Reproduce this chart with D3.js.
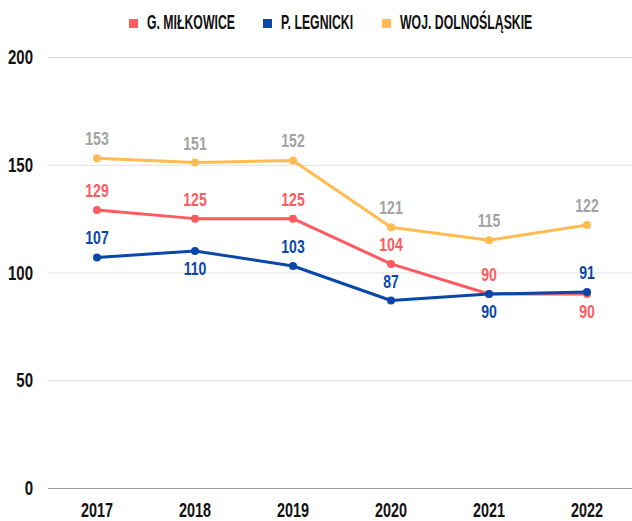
<!DOCTYPE html>
<html lang="pl">
<head>
    <meta charset="UTF-8">
    <script src="https://cdn.jsdelivr.net/npm/d3@7"></script>
    <title>Chart</title>
    <style>
        body { margin: 0; background: white; }
        text {
            font-family: "Liberation Sans", "Roboto", sans-serif;
            font-weight: bold;
        }
    </style>
</head>
<body>
    <div id="chart"></div>
    <script>
        const years = ["2017", "2018", "2019", "2020", "2021", "2022"];
        const yTicks = [0, 50, 100, 150, 200];

        const seriesNames = ["G. MIŁKOWICE", "P. LEGNICKI", "WOJ. DOLNOŚLĄSKIE"];
        const milkowice = [129, 125, 125, 104, 90, 90];
        const legnicki = [107, 110, 103, 87, 90, 91];
        const dolnoslaskie = [153, 151, 152, 121, 115, 122];

        // where the value label sits, per point
        const milkowicePos = ["up", "up", "up", "up", "up", "down"];
        const legnickiPos = ["up", "down", "up", "up", "down", "up"];
        const dolnoslaskiePos = ["up", "up", "up", "up", "up", "up"];

        const colors = ["#ff5a5f", "#0b47a8", "#ffbb4f"];
        const labelColors = ["#ff5a5f", "#0b47a8", "#a3a3a3"];

        const width = 632, height = 521;

        const svg = d3.select("#chart").append("svg")
            .attr("width", width)
            .attr("height", height);

        const x = d3.scalePoint().domain(years).range([48, 636]).padding(0.5);
        const y = d3.scaleLinear().domain([0, 200]).range([488, 57]);

        // squeezed text, the original uses a very narrow face
        const squeeze = (sel, sx) => sel.attr("transform", function () {
            const tx = +this.getAttribute("data-x"), ty = +this.getAttribute("data-y");
            return `translate(${tx},${ty}) scale(${sx},1)`;
        });

        // grid
        svg.append("g").selectAll("line")
            .data(yTicks)
            .enter().append("line")
            .attr("x1", 48).attr("x2", width)
            .attr("y1", d => y(d) + 0.5).attr("y2", d => y(d) + 0.5)
            .attr("stroke", d => d === 0 ? "#9a9a9a" : "#dedede")
            .attr("stroke-width", 1);

        svg.append("g").selectAll("text")
            .data(yTicks)
            .enter().append("text")
            .attr("data-x", 33).attr("data-y", d => y(d) + 7)
            .attr("text-anchor", "end")
            .attr("font-size", 19.5)
            .attr("fill", "#111")
            .text(d => d)
            .call(squeeze, 0.77);

        svg.append("g").selectAll("text")
            .data(years)
            .enter().append("text")
            .attr("data-x", d => x(d)).attr("data-y", 516.5)
            .attr("text-anchor", "middle")
            .attr("font-size", 20)
            .attr("fill", "#111")
            .text(d => d)
            .call(squeeze, 0.72);

        const series = [
            { name: seriesNames[0], values: milkowice, pos: milkowicePos, i: 0 },
            { name: seriesNames[1], values: legnicki, pos: legnickiPos, i: 1 },
            { name: seriesNames[2], values: dolnoslaskie, pos: dolnoslaskiePos, i: 2 }
        ];
        const drawOrder = [series[2], series[0], series[1]];

        const line = d3.line()
            .x((d, i) => x(years[i]))
            .y(d => y(d));

        drawOrder.forEach(s => {
            const g = svg.append("g");
            g.append("path")
                .datum(s.values)
                .attr("d", line)
                .attr("fill", "none")
                .attr("stroke", colors[s.i])
                .attr("stroke-width", 3)
                .attr("stroke-linejoin", "round");
            g.selectAll("circle")
                .data(s.values)
                .enter().append("circle")
                .attr("cx", (d, i) => x(years[i]))
                .attr("cy", d => y(d))
                .attr("r", 4)
                .attr("fill", colors[s.i]);
        });

        series.forEach(s => {
            svg.append("g").selectAll("text")
                .data(s.values)
                .enter().append("text")
                .attr("data-x", (d, i) => x(years[i]))
                .attr("data-y", (d, i) => s.pos[i] === "up" ? y(d) - 13 : y(d) + 24)
                .attr("text-anchor", "middle")
                .attr("font-size", 18.5)
                .attr("fill", labelColors[s.i])
                .text(d => d)
                .call(squeeze, 0.76);
        });

        // legend
        const legendX = [129, 263, 382];
        const legend = svg.append("g");
        series.forEach((s, k) => {
            legend.append("rect")
                .attr("x", legendX[k]).attr("y", 19)
                .attr("width", 9).attr("height", 9)
                .attr("fill", colors[s.i]);
            legend.append("text")
                .attr("data-x", legendX[k] + 18).attr("data-y", 29)
                .attr("font-size", 19.5)
                .attr("fill", "#111")
                .text(s.name)
                .call(squeeze, 0.63);
        });
    </script>
</body>
</html>
